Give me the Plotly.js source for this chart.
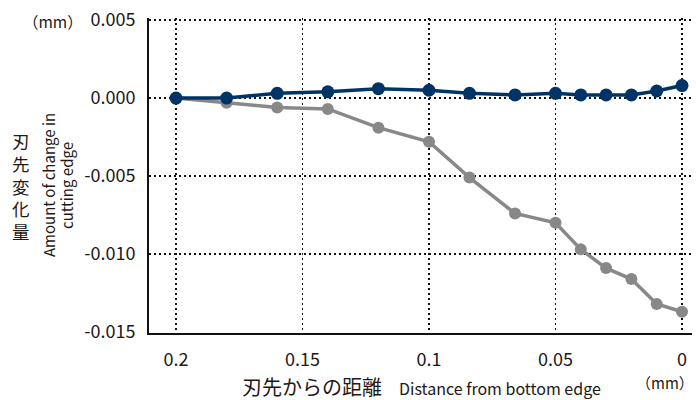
<!DOCTYPE html>
<html>
<head>
<meta charset="utf-8">
<script src="https://cdn.plot.ly/plotly-3.0.1.min.js"></script>
<style>html,body{margin:0;padding:0;background:#fff;}#chart{width:696px;height:400px;}</style>
</head>
<body>
<div id="chart"></div>
<script>
// Data
const distance = [0.2, 0.18, 0.16, 0.14, 0.12, 0.1, 0.084, 0.066, 0.05, 0.04, 0.03, 0.02, 0.01, 0];
const changeBlue = [0, 0, 0.0003, 0.0004, 0.0006, 0.0005, 0.0003, 0.0002, 0.0003, 0.0002, 0.0002, 0.0002, 0.00045, 0.0008];
const changeGray = [0, -0.0003, -0.0006, -0.0007, -0.0019, -0.0028, -0.0051, -0.0074, -0.0080, -0.0097, -0.0109, -0.0116, -0.0132, -0.0137];
const xTickVals = [0.2, 0.15, 0.1, 0.05, 0];
const xTickText = ['0.2', '0.15', '0.1', '0.05', '0'];
const yTickVals = [0.005, 0, -0.005, -0.010, -0.015];
const yTickText = ['0.005', '0.000', '-0.005', '-0.010', '-0.015'];
const yTitleJa = '刃先変化量';
const yTitleEn1 = 'Amount of change in';
const yTitleEn2 = 'cutting edge';
const xTitleJa = '刃先からの距離';
const xTitleEn = 'Distance from bottom edge';
const unitText = '（mm）';

const FONT = '"Noto Sans CJK JP", "Noto Sans", sans-serif';
const TXT = '#231815';
const W = 696, H = 400;
const M = {l: 149, r: 4, t: 18, b: 67};
const pw = W - M.l - M.r, ph = H - M.t - M.b;
const px = x => (x - M.l) / pw;
const py = y => (H - M.b - y) / ph;

const traces = [
  {x: distance, y: changeGray, type: 'scatter', mode: 'lines+markers',
   line: {color: '#888888', width: 3.5}, marker: {color: '#888888', size: 12}, hoverinfo: 'none'},
  {x: distance, y: changeBlue, type: 'scatter', mode: 'lines+markers',
   line: {color: '#003366', width: 3.5}, marker: {color: '#003366', size: 13}, hoverinfo: 'none'}
];

const ann = [];
function addAnn(text, x, y, size, opts) {
  ann.push(Object.assign({text: text, xref: 'paper', yref: 'paper', x: px(x), y: py(y),
    xanchor: 'center', yanchor: 'middle', showarrow: false, borderpad: 0,
    font: {family: FONT, size: size, color: TXT}}, opts || {}));
}
// vertical Japanese y title (one character per line)
addAnn(Array.from(yTitleJa).join('<br>'), 21, 186, 17.5);
addAnn(yTitleEn1, 48, 185, 15, {textangle: -90});
addAnn(yTitleEn2, 66, 186, 15, {textangle: -90});
addAnn(xTitleJa, 312, 386, 20);
addAnn(xTitleEn, 398, 388, 16, {xanchor: 'left'});
addAnn(unitText, 695, 383, 15, {xanchor: 'right'});
addAnn(unitText, 53, 21, 15.5);

const layout = {
  width: W, height: H, margin: M, showlegend: false,
  paper_bgcolor: '#fff', plot_bgcolor: '#fff',
  font: {family: FONT, color: TXT},
  xaxis: {range: [0.21067, -0.00395], tickvals: xTickVals, ticktext: xTickText,
    tickfont: {family: FONT, size: 18, color: TXT}, ticks: '', ticklabelstandoff: 9,
    showgrid: true, gridcolor: '#111', gridwidth: 1.5, griddash: '2px,3px',
    zeroline: false, showline: true, linecolor: '#111', linewidth: 2},
  yaxis: {range: [-0.01506, 0.00513], tickvals: yTickVals, ticktext: yTickText,
    tickfont: {family: FONT, size: 18, color: TXT}, ticks: '', ticklabelstandoff: 8,
    showgrid: true, gridcolor: '#111', gridwidth: 1.5, griddash: '2px,3px',
    zeroline: false, showline: true, linecolor: '#111', linewidth: 2},
  annotations: ann
};
Plotly.newPlot('chart', traces, layout, {staticPlot: true, displayModeBar: false});
</script>
</body>
</html>
